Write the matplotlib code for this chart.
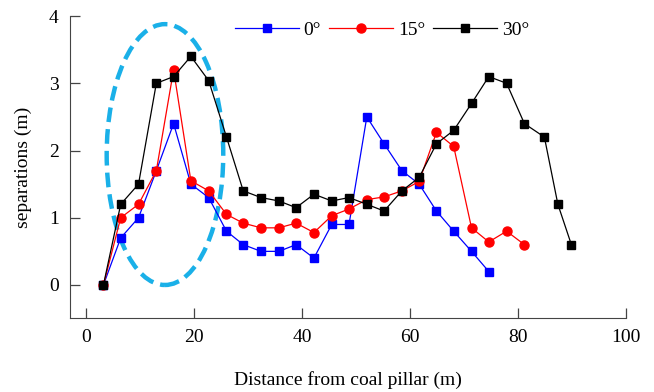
import matplotlib
matplotlib.use('Agg')
import matplotlib.pyplot as plt
from matplotlib.patches import Ellipse

plt.rcParams['font.family'] = 'Liberation Serif'
plt.rcParams['mathtext.fontset'] = 'stix'

x_0 = [3.2, 6.4, 9.7, 13.0, 16.2, 19.4, 22.7, 26.0, 29.1, 32.4, 35.7, 38.9,
       42.2, 45.5, 48.7, 52.0, 55.2, 58.5, 61.7, 64.9, 68.1, 71.4, 74.6]
y_0 = [0, 0.70, 1.0, 1.70, 2.40, 1.50, 1.30, 0.80, 0.60, 0.50, 0.50, 0.60,
       0.40, 0.90, 0.90, 2.50, 2.10, 1.70, 1.50, 1.10, 0.80, 0.50, 0.20]

x_15 = [3.2, 6.4, 9.7, 13.0, 16.2, 19.4, 22.7, 26.0, 29.1, 32.4, 35.7, 38.9,
        42.2, 45.5, 48.7, 52.0, 55.2, 58.5, 61.7, 64.9, 68.1, 71.4, 74.6,
        77.9, 81.2]
y_15 = [0, 1.0, 1.2, 1.7, 3.2, 1.55, 1.4, 1.05, 0.92, 0.85, 0.85, 0.92,
        0.78, 1.03, 1.13, 1.27, 1.31, 1.40, 1.54, 2.27, 2.06, 0.85, 0.64,
        0.80, 0.60]

x_30 = [3.2, 6.4, 9.7, 13.0, 16.2, 19.4, 22.7, 26.0, 29.1, 32.4, 35.7, 38.9,
        42.2, 45.5, 48.7, 52.0, 55.2, 58.5, 61.7, 64.9, 68.1, 71.4, 74.6,
        77.9, 81.2, 84.9, 87.4, 89.9]
y_30 = [0, 1.20, 1.50, 3.0, 3.10, 3.40, 3.04, 2.20, 1.40, 1.30, 1.25, 1.15,
        1.35, 1.25, 1.30, 1.20, 1.10, 1.40, 1.60, 2.10, 2.30, 2.70, 3.10,
        3.0, 2.40, 2.20, 1.20, 0.60]

fig = plt.figure(figsize=(6.54, 3.92), dpi=100)
ax = fig.add_axes([0.107, 0.189, 0.85, 0.77])

ax.plot(x_0, y_0, color='blue', lw=0.9, marker='s', ms=6, label='0°')
ax.plot(x_15, y_15, color='red', lw=0.9, marker='o', ms=6.5, label='15°')
ax.plot(x_30, y_30, color='black', lw=0.9, marker='s', ms=6, label='30°')

# highlight the first peak
ell = Ellipse((14.6, 1.94), 21.6, 3.88, fill=False, edgecolor='#1ab0e8',
              lw=3.2, linestyle=(0, (3.3, 1.6)))
ax.add_patch(ell)

ax.set_xlim(-3, 100)
ax.set_ylim(-0.49, 4)
ax.set_xticks([0, 20, 40, 60, 80, 100])
ax.set_yticks([0, 1, 2, 3, 4])
ax.spines['top'].set_visible(False)
ax.spines['right'].set_visible(False)
for s in ['left', 'bottom']:
    ax.spines[s].set_color('#444444')
ax.tick_params(direction='in', length=7, width=0.9, color='#444444',
               labelsize=14, pad=8)

ax.set_xlabel('Distance from coal pillar (m)', fontsize=14, labelpad=18)
ax.set_ylabel('separations (m)', fontsize=14, labelpad=12)

ax.legend(loc='upper center', bbox_to_anchor=(0.561, 1.04), ncol=3,
          frameon=False, fontsize=14, handlelength=3.3, columnspacing=0.4,
          handletextpad=0.25)

fig.savefig('out.png', dpi=100)
